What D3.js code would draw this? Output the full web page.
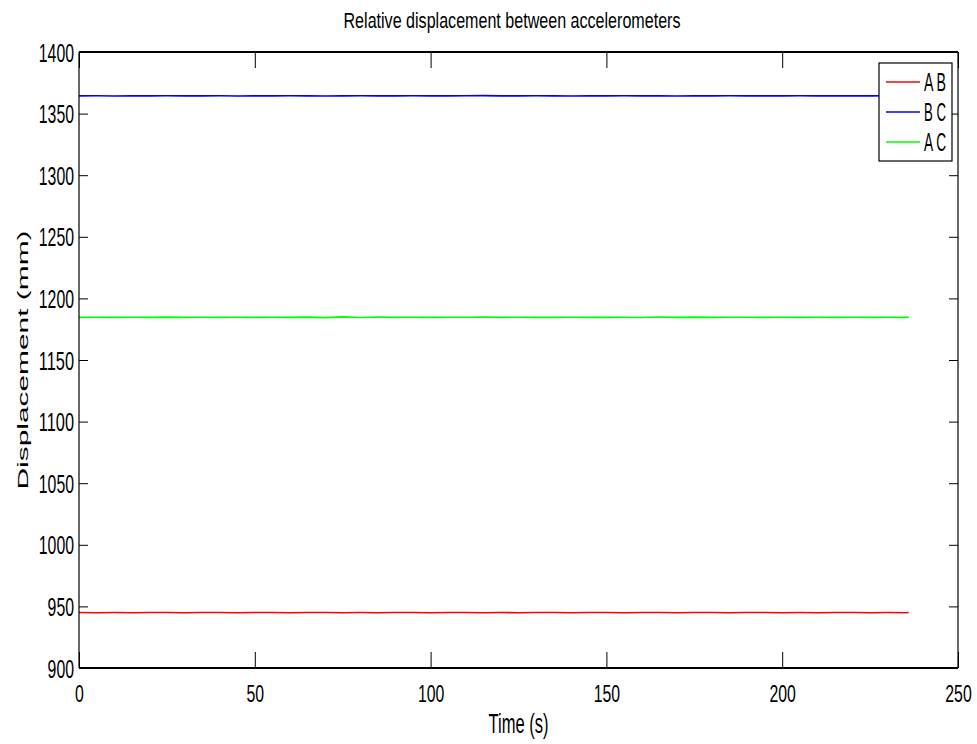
<!DOCTYPE html>
<html>
<head>
<meta charset="utf-8">
<script src="https://cdn.jsdelivr.net/npm/d3@7"></script>
<style>
  body { margin: 0; background: #fff; }
  text { font-family: "Liberation Sans", Arial, sans-serif; fill: #000; }
</style>
</head>
<body>
<div id="chart"></div>
<script>
// time axis (s)
var times = [0, 5, 10, 15, 20, 25, 30, 35, 40, 45, 50, 55, 60, 65, 70, 75, 80, 85, 90, 95,
  100, 105, 110, 115, 120, 125, 130, 135, 140, 145, 150, 155, 160, 165, 170, 175, 180, 185,
  190, 195, 200, 205, 210, 215, 220, 225, 230, 235, 236];

// relative displacement (mm)
var dispAB = [945.0, 944.9, 945.0, 944.9, 945.0, 945.1, 944.9, 945.0, 945.0, 944.9, 945.0, 945.0,
  944.9, 945.0, 945.1, 944.9, 945.0, 944.9, 945.0, 945.0, 944.9, 945.0, 945.0, 944.9, 945.0,
  944.9, 945.0, 945.0, 944.9, 945.0, 945.0, 944.9, 945.0, 945.0, 944.9, 945.0, 945.1, 944.9,
  945.0, 945.0, 944.9, 945.0, 944.9, 945.0, 945.0, 944.9, 945.0, 944.9, 945.0];
var dispBC = [1364.4, 1364.5, 1364.3, 1364.4, 1364.4, 1364.5, 1364.4, 1364.4, 1364.5, 1364.3, 1364.4,
  1364.4, 1364.5, 1364.4, 1364.3, 1364.4, 1364.5, 1364.4, 1364.4, 1364.5, 1364.4, 1364.4, 1364.5,
  1364.6, 1364.4, 1364.4, 1364.5, 1364.4, 1364.3, 1364.4, 1364.4, 1364.5, 1364.4, 1364.4, 1364.3,
  1364.4, 1364.4, 1364.5, 1364.4, 1364.4, 1364.4, 1364.5, 1364.4, 1364.4, 1364.4, 1364.4, 1364.5,
  1364.4, 1364.4];
var dispAC = [1184.6, 1184.7, 1184.6, 1184.7, 1184.6, 1184.8, 1184.6, 1184.7, 1184.6, 1184.7, 1184.6,
  1184.7, 1184.6, 1184.8, 1184.4, 1185.0, 1184.5, 1184.9, 1184.6, 1184.7, 1184.6, 1184.7, 1184.7,
  1184.9, 1184.6, 1184.7, 1184.6, 1184.6, 1184.7, 1184.6, 1184.6, 1184.7, 1184.5, 1184.9, 1184.6,
  1184.8, 1184.6, 1184.7, 1184.7, 1184.6, 1184.7, 1184.6, 1184.7, 1184.6, 1184.7, 1184.6, 1184.7,
  1184.6, 1184.7];

var seriesNames = ["A B", "B C", "A C"];
var seriesColors = ["#ff0000", "#0000ff", "#00ff00"];
var seriesValues = [dispAB, dispBC, dispAC];

var xTicks = [0, 50, 100, 150, 200, 250];
var yTicks = [900, 950, 1000, 1050, 1100, 1150, 1200, 1250, 1300, 1350, 1400];

var width = 977, height = 744;
var margin = { top: 52, right: 19, bottom: 76, left: 79 };
var digitW = 8.8; // narrow glyphs like the original

var svg = d3.select("#chart").append("svg")
  .attr("width", width)
  .attr("height", height);

var x = d3.scaleLinear().domain([0, 250]).range([margin.left, width - margin.right]);
var y = d3.scaleLinear().domain([900, 1400]).range([height - margin.bottom, margin.top]);

// data lines
var line = d3.line()
  .x(function(d) { return x(d.t); })
  .y(function(d) { return y(d.v); });

seriesValues.forEach(function(vals, i) {
  var pts = times.map(function(t, j) { return { t: t, v: vals[j] }; });
  svg.append("path")
    .datum(pts)
    .attr("fill", "none")
    .attr("stroke", seriesColors[i])
    .attr("stroke-width", 1.6)
    .attr("d", line);
});

// axes (ticks inside, mirrored on top and right)
function styleAxis(g) {
  g.select(".domain").remove();
  g.selectAll(".tick line").attr("stroke", "#000").attr("stroke-width", 1);
}

var xAxisB = svg.append("g")
  .attr("transform", "translate(0," + y(900) + ")")
  .call(d3.axisBottom(x).tickValues(xTicks).tickSize(-16).tickFormat(d3.format("d")));
styleAxis(xAxisB);
xAxisB.selectAll(".tick text")
  .attr("y", 34)
  .attr("dy", 0)
  .style("font-size", "24px")
  .attr("textLength", function() { return this.textContent.length * digitW; })
  .attr("lengthAdjust", "spacingAndGlyphs");

var xAxisT = svg.append("g")
  .attr("transform", "translate(0," + y(1400) + ")")
  .call(d3.axisTop(x).tickValues(xTicks).tickSize(-16).tickFormat(""));
styleAxis(xAxisT);

var yAxisL = svg.append("g")
  .attr("transform", "translate(" + x(0) + ",0)")
  .call(d3.axisLeft(y).tickValues(yTicks).tickSize(-9).tickFormat(d3.format("d")));
styleAxis(yAxisL);
yAxisL.selectAll(".tick text")
  .attr("x", -5)
  .attr("dy", "0.36em")
  .style("font-size", "25px")
  .attr("textLength", function() { return this.textContent.length * digitW; })
  .attr("lengthAdjust", "spacingAndGlyphs");

var yAxisR = svg.append("g")
  .attr("transform", "translate(" + x(250) + ",0)")
  .call(d3.axisRight(y).tickValues(yTicks).tickSize(-9).tickFormat(""));
styleAxis(yAxisR);

// frame: horizontal edges look heavier in the original
svg.append("line").attr("x1", x(0)).attr("x2", x(250)).attr("y1", y(1400)).attr("y2", y(1400))
  .attr("stroke", "#000").attr("stroke-width", 2);
svg.append("line").attr("x1", x(0)).attr("x2", x(250)).attr("y1", y(900)).attr("y2", y(900))
  .attr("stroke", "#000").attr("stroke-width", 2);
svg.append("line").attr("x1", x(0)).attr("x2", x(0)).attr("y1", y(1400)).attr("y2", y(900))
  .attr("stroke", "#000").attr("stroke-width", 1.2);
svg.append("line").attr("x1", x(250)).attr("x2", x(250)).attr("y1", y(1400)).attr("y2", y(900))
  .attr("stroke", "#000").attr("stroke-width", 1.2);

// title and axis labels
svg.append("text")
  .attr("x", 512).attr("y", 28)
  .attr("text-anchor", "middle")
  .style("font-size", "22px")
  .attr("textLength", 337).attr("lengthAdjust", "spacingAndGlyphs")
  .text("Relative displacement between accelerometers");

svg.append("text")
  .attr("x", (x(0) + x(250)) / 2).attr("y", 733)
  .attr("text-anchor", "middle")
  .style("font-size", "27px")
  .attr("textLength", 60).attr("lengthAdjust", "spacingAndGlyphs")
  .text("Time (s)");

svg.append("text")
  .attr("transform", "translate(28," + ((y(900) + y(1400)) / 2) + ") rotate(-90)")
  .attr("text-anchor", "middle")
  .style("font-size", "15px")
  .attr("textLength", 259).attr("lengthAdjust", "spacingAndGlyphs")
  .text("Displacement (mm)");

// legend
var legend = svg.append("g").attr("transform", "translate(879,63)");
legend.append("rect")
  .attr("width", 73).attr("height", 98)
  .attr("fill", "#fff").attr("stroke", "#000").attr("stroke-width", 1.2);

seriesNames.forEach(function(name, i) {
  var ly = 19 + i * 30;
  legend.append("line")
    .attr("x1", 7).attr("x2", 41).attr("y1", ly).attr("y2", ly)
    .attr("stroke", seriesColors[i]).attr("stroke-width", 1.3);
  legend.append("text")
    .attr("x", 45).attr("y", ly).attr("dy", "0.36em")
    .style("font-size", "25px")
    .attr("textLength", 22).attr("lengthAdjust", "spacingAndGlyphs")
    .text(name);
});
</script>
</body>
</html>
